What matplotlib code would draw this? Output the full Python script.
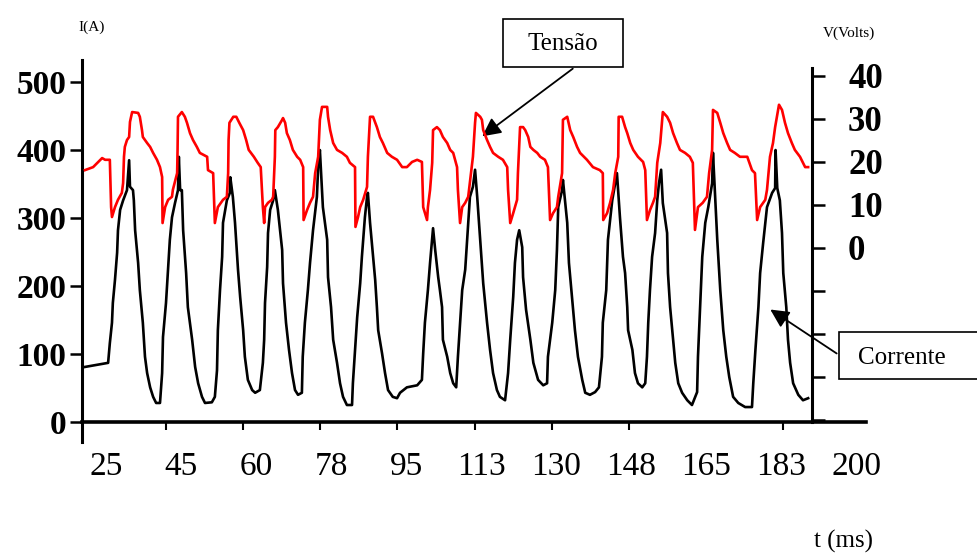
import numpy as np
import matplotlib.pyplot as plt
from matplotlib.patches import Rectangle

# corrente (A)
t_i = [20.1, 25.5, 25.9, 26.4, 26.6, 27.1, 27.6, 27.8, 28.3, 29.0, 29.9, 30.4, 30.6, 31.3, 31.5, 31.8, 32.5, 32.9,
       33.6, 34.1, 34.6, 35.3, 36.0, 36.7, 37.6, 38.1, 38.3, 39.0, 39.5, 39.9, 40.4, 41.1, 41.8, 42.0, 42.3, 42.7,
       43.0, 43.7, 44.1, 45.1, 45.8, 46.5, 47.4, 48.1, 49.7, 50.4, 50.9, 51.1, 51.6, 52.1, 52.3, 53.2, 53.9, 54.0,
       54.6, 55.1, 55.8, 56.3, 57.0, 57.4, 58.1, 59.1, 59.8, 60.9, 61.6, 61.9, 62.1, 62.6, 62.8, 63.3, 64.0, 64.4,
       65.1, 66.1, 66.3, 67.0, 67.7, 68.4, 69.1, 69.8, 70.7, 70.9, 71.4, 72.1, 72.6, 73.3, 74.2, 74.5, 74.9, 75.6,
       76.6, 76.8, 77.5, 78.0, 78.9, 79.6, 80.3, 81.2, 82.4, 82.6, 83.1, 83.6, 84.3, 84.7, 85.4, 85.9, 86.1, 86.6,
       87.3, 87.8, 88.2, 88.5, 89.4, 90.1, 90.8, 91.9, 92.9, 93.6, 95.2, 97.6, 98.7, 99.0, 99.4, 100.1, 100.6,
       101.3, 101.8, 102.5, 102.9, 103.4, 103.6, 104.6, 105.3, 106.0, 106.7, 107.1, 107.6, 108.1, 108.8, 109.5,
       109.9, 110.6, 111.1, 111.6, 112.3, 113.0, 113.9, 114.6, 115.3, 116.2, 116.9, 118.1, 118.8, 119.3, 120.0,
       120.4, 120.9, 121.4, 122.1, 122.3, 123.0, 124.0, 124.7, 125.8, 127.0, 127.9, 128.1, 129.1, 129.8, 130.2,
       130.5, 131.4, 131.6, 132.6, 133.0, 133.7, 134.4, 135.1, 136.1, 136.8, 137.9, 139.1, 140.0, 140.7, 140.9,
       141.7, 142.1, 143.1, 143.8, 144.2, 144.9, 145.6, 146.1, 146.6, 146.8, 147.8, 148.4, 149.1, 150.1, 150.8,
       151.2, 151.5, 151.9, 152.4, 153.1, 153.6, 154.0, 154.5, 154.9, 155.9, 156.1, 156.6, 157.3, 157.8, 158.5,
       159.4, 160.6, 161.7, 162.9, 163.1, 163.6, 164.1, 164.8, 165.5, 166.4, 166.6, 167.1, 167.6, 168.3, 169.0,
       169.7, 170.4, 171.3, 172.5, 174.1, 175.7, 176.0, 176.5, 177.2, 177.6, 178.3, 179.2, 180.4, 181.1, 181.2,
       181.6, 182.2, 182.7, 183.0, 183.7, 184.1, 184.6, 185.3, 186.5, 187.6, 188.8]
corrente = [81, 87, 116, 146, 175, 209, 249, 282, 312, 326, 341, 385, 346, 341, 326, 282, 234, 194,
            146, 96, 72, 51, 37, 28, 28, 72, 125, 175, 228, 268, 301, 322, 341, 390, 341, 341,
            282, 219, 169, 121, 81, 57, 37, 28, 29, 37, 76, 135, 194, 243, 293, 326, 337, 360,
            331, 293, 224, 184, 135, 96, 62, 47, 43, 47, 87, 121, 175, 228, 278, 312, 326, 341,
            312, 253, 204, 146, 106, 72, 47, 40, 43, 96, 146, 194, 234, 282, 331, 375, 400, 316,
            268, 213, 169, 121, 87, 57, 37, 25, 25, 57, 106, 154, 204, 243, 301, 331, 337, 293,
            243, 209, 169, 135, 101, 72, 47, 37, 35, 43, 51, 54, 62, 101, 146, 194, 234,
            285, 253, 213, 194, 169, 121, 96, 72, 57, 51, 96, 146, 194, 224, 293,
            331, 346, 371, 331, 268, 204, 146, 106, 72, 47, 37, 32, 72, 121, 184,
            234, 268, 282, 257, 213, 165, 121, 87, 62, 54, 57, 96, 146, 194, 253,
            316, 341, 356, 293, 234, 184, 135, 96, 62, 43, 40, 44, 51, 96, 146,
            194, 268, 326, 351, 366, 301, 243, 219, 169, 135, 106, 72, 57, 51, 57,
            96, 146, 194, 243, 278, 326, 351, 371, 322, 278, 219, 169, 121, 87, 57,
            43, 32, 25, 44, 96, 169, 243, 293, 316, 351, 396, 331, 268, 194, 135,
            96, 66, 37, 28, 22, 22, 57, 106, 169, 219, 263, 316, 337, 344, 400,
            344, 326, 278, 219, 169, 121, 87, 57, 40, 32, 35]

# tensao (V)
t_v = [20.1, 22.0, 24.1, 24.8, 25.9, 26.2, 26.4, 27.1, 27.8, 28.7, 29.0, 29.2, 29.4, 29.9, 30.4, 30.6, 31.1, 32.5,
       32.9, 33.4, 33.6, 34.6, 35.3, 36.0, 36.9, 37.6, 38.1, 38.2, 38.8, 39.5, 40.4, 40.6, 41.6, 41.7, 41.8, 42.7,
       43.4, 43.9, 44.6, 45.3, 46.2, 46.9, 48.6, 48.8, 50.0, 50.4, 51.1, 52.3, 53.2, 53.5, 53.6, 53.8, 54.7, 55.4,
       56.1, 57.0, 57.7, 58.3, 59.5, 60.4, 61.1, 61.6, 61.9, 62.1, 62.8, 63.7, 64.0, 64.4, 64.5, 65.1, 66.1, 66.3,
       66.8, 67.2, 67.9, 68.6, 69.6, 70.3, 71.0, 71.1, 71.9, 72.6, 73.3, 73.8, 74.5, 74.9, 75.4, 76.6, 76.8, 77.3,
       78.0, 78.9, 80.1, 81.2, 81.9, 83.1, 83.2, 83.8, 84.3, 85.0, 85.9, 86.1, 86.6, 87.3, 88.2, 88.9, 89.6, 90.6,
       91.7, 92.9, 94.1, 95.2, 96.4, 97.6, 98.7, 99.0, 99.9, 100.1, 100.6, 101.1, 101.3, 102.2, 102.9, 103.6,
       104.6, 105.3, 106.0, 106.9, 107.1, 107.6, 108.1, 108.8, 109.5, 110.6, 111.1, 111.3, 112.3, 112.7, 113.0,
       113.9, 114.6, 115.3, 116.5, 117.6, 118.6, 118.8, 119.3, 120.0, 120.9, 121.1, 121.6, 122.3, 122.8, 123.5,
       124.0, 124.7, 125.6, 126.3, 127.4, 128.1, 128.6, 129.3, 130.2, 130.5, 131.4, 131.6, 132.6, 133.3, 134.0,
       134.9, 135.6, 137.2, 138.6, 140.2, 140.9, 141.0, 141.9, 142.6, 143.3, 143.8, 144.5, 144.6, 145.4, 146.1,
       146.6, 147.3, 148.0, 149.1, 150.3, 150.8, 151.2, 151.9, 152.6, 153.1, 153.6, 154.3, 154.7, 154.9, 155.9,
       156.6, 157.3, 158.2, 158.9, 160.1, 161.2, 161.9, 162.4, 163.1, 164.2, 165.2, 165.7, 166.4, 166.6, 167.6,
       168.3, 169.0, 169.9, 170.6, 171.7, 172.9, 174.6, 175.7, 176.4, 176.9, 177.6, 178.8, 179.2, 179.9, 180.6,
       181.1, 182.0, 182.7, 183.4, 184.1, 185.0, 185.7, 186.9, 187.6, 188.1, 188.8]
tensao = [18.1, 18.8, 20.9, 20.5, 20.5, 9.5, 7.2, 9.5, 11.2, 12.8, 15.1, 21.2, 23.5, 25.1, 25.8, 29.3, 31.6, 31.4,
          30.5, 27.4, 25.8, 24.4, 23.5, 22.1, 20.5, 18.8, 16.5, 5.8, 9.5, 11.2, 11.9, 13.5, 17.4, 22.8, 30.5, 31.6,
          30.5, 29.1, 26.7, 25.1, 23.5, 22.1, 21.2, 18.1, 17.4, 5.8, 9.5, 11.2, 11.9, 17.4, 25.1, 29.1, 30.5, 30.5,
          29.1, 27.4, 25.1, 22.8, 21.2, 19.8, 18.8, 9.5, 5.8, 9.5, 10.5, 11.2, 11.9, 21.2, 27.4, 28.1, 29.8, 30.2,
          29.1, 26.7, 25.1, 22.8, 21.2, 20.5, 18.8, 6.5, 8.8, 10.5, 11.9, 17.4, 21.2, 29.8, 32.8, 32.8, 30.5, 27.4,
          24.4, 22.8, 22.1, 21.2, 19.8, 18.8, 4.9, 7.2, 9.5, 11.2, 14.2, 21.2, 30.5, 30.5, 28.1, 25.8, 24.4, 22.1,
          21.2, 20.5, 18.8, 18.8, 20.0, 20.5, 20.0, 9.5, 6.5, 9.5, 13.5, 19.8, 27.4, 28.1, 27.4, 25.8,
          24.4, 22.8, 22.1, 18.8, 13.5, 5.8, 9.5, 10.5, 11.9, 21.2, 29.1, 31.4, 30.5, 29.8, 27.4,
          25.1, 23.5, 22.1, 21.2, 20.5, 18.8, 13.5, 5.8, 8.1, 11.2, 17.4, 28.1, 28.1, 27.4, 25.8,
          23.5, 22.8, 22.1, 21.2, 20.5, 18.8, 6.5, 8.1, 9.5, 11.9, 17.4, 29.8, 30.5, 27.4, 25.8,
          23.5, 22.1, 20.5, 18.8, 18.1, 17.4, 6.5, 8.1, 10.5, 13.5, 17.4, 21.2, 30.5, 30.5, 28.1,
          26.7, 24.4, 22.8, 21.2, 20.0, 18.1, 6.5, 8.8, 10.5, 11.9, 19.8, 24.4, 29.1, 31.6, 30.5,
          29.1, 26.7, 24.4, 22.8, 22.1, 21.2, 19.8, 4.2, 9.5, 10.5, 11.9, 17.4, 22.8, 32.1, 31.4,
          29.1, 26.7, 24.4, 22.8, 22.1, 21.2, 21.2, 18.1, 17.4, 6.5, 9.5, 11.2, 13.5, 21.2, 24.4,
          28.1, 33.3, 32.1, 29.1, 26.7, 24.4, 22.8, 21.2, 19.8, 18.8, 18.8]

x_labels = ['25', '45', '60', '78', '95', '113', '130', '148', '165', '183', '200']
x_label_pos = [25 + 17.5 * k for k in range(11)]
x_marks = [39, 57, 75, 93, 111, 129, 147, 165, 183]
i_ticks = [0, 100, 200, 300, 400, 500]
v_ticks = [-40, -30, -20, -10, 0, 10, 20, 30, 40]

plt.rcParams['font.family'] = ['Liberation Serif', 'DejaVu Serif']

fig = plt.figure(figsize=(9.77, 5.55), dpi=100)
ax = fig.add_axes([0.0839, 0.2036, 0.8025, 0.6883])
ax.plot(t_i, corrente, color='black', linewidth=1.9)
ax.set_xlim(19.4, 202.3)
ax.set_ylim(-29.4, 532.4)

ax.spines['top'].set_visible(False)
ax.spines['right'].set_visible(False)
ax.spines['left'].set_linewidth(2.2)
ax.spines['bottom'].set_linewidth(2.6)
ax.spines['bottom'].set_position(('data', 0))

ax.set_yticks(i_ticks)
ax.set_yticklabels([str(v) for v in i_ticks], fontsize=24, fontweight='bold')
ax.tick_params(axis='y', length=9, width=1.8, pad=2)

ax.set_xticks(x_label_pos)
ax.set_xticklabels(x_labels, fontsize=24)
ax.set_xticks(x_marks, minor=True)
ax.tick_params(axis='x', which='major', length=0, pad=21)
ax.tick_params(axis='x', which='minor', length=6, width=1.5, direction='out')

ax2 = ax.twinx()
ax2.plot(t_v, tensao, color='red', linewidth=1.9)
ax2.set_ylim(-45.1, 43.7)
for s in ['top', 'left', 'bottom']:
    ax2.spines[s].set_visible(False)
ax2.spines['right'].set_position(('data', 189.7))
ax2.spines['right'].set_bounds(-40.5, 41.9)
ax2.spines['right'].set_linewidth(2.2)
ax2.set_yticks(v_ticks)
ax2.set_yticklabels([str(v) if v >= 0 else '' for v in v_ticks], fontsize=25, fontweight='bold')
ax2.tick_params(axis='y', length=9, width=1.8, pad=17)

# rotulos dos eixos
fig.text(92 / 977, 1 - 27 / 555, 'I(A)', fontsize=11, ha='center', va='center')
fig.text(849 / 977, 1 - 33 / 555, 'V(Volts)', fontsize=11, ha='center', va='center')
fig.text(843 / 977, 1 - 541 / 555, 't (ms)', fontsize=18, ha='center', va='center')

# caixas com setas
fig.add_artist(Rectangle((503 / 977, 1 - 67 / 555), 120 / 977, 48 / 555, transform=fig.transFigure,
                         facecolor='white', edgecolor='black', linewidth=1.2))
fig.text(563 / 977, 1 - 44 / 555, 'Tensão', fontsize=18, ha='center', va='center')
ax.annotate('', xy=(480 / 977, 1 - 138 / 555), xycoords='figure fraction',
            xytext=(575 / 977, 1 - 67 / 555), textcoords='figure fraction',
            arrowprops=dict(arrowstyle='-|>', color='black', linewidth=1.3, mutation_scale=28))

fig.add_artist(Rectangle((839 / 977, 1 - 379 / 555), 145 / 977, 47 / 555, transform=fig.transFigure,
                         facecolor='white', edgecolor='black', linewidth=1.2, clip_on=False))
fig.text(858 / 977, 1 - 358 / 555, 'Corrente', fontsize=18, ha='left', va='center')
ax.annotate('', xy=(768 / 977, 1 - 308 / 555), xycoords='figure fraction',
            xytext=(839 / 977, 1 - 355 / 555), textcoords='figure fraction',
            arrowprops=dict(arrowstyle='-|>', color='black', linewidth=1.3, mutation_scale=28))

fig.savefig('out.png', dpi=100)
